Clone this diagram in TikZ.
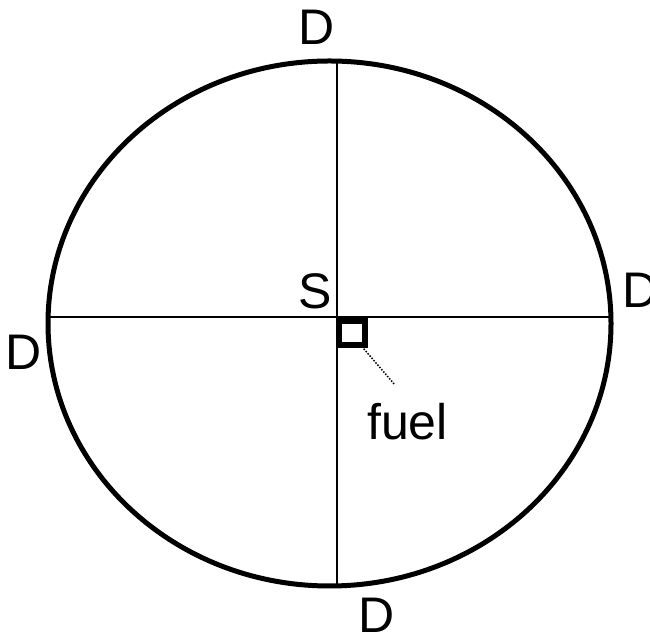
\documentclass[tikz,border=0pt]{standalone}
\usepackage{fontspec}
\setmainfont{Liberation Sans}
\begin{document}
\begin{tikzpicture}[x=1pt,y=1pt,
  lbl/.style={inner sep=0pt, font=\fontsize{50}{50}\selectfont},
  rim/.style={line width=5pt},
  axis/.style={line width=2pt},
  fuelbox/.style={draw, line width=5.5pt, minimum width=26pt, minimum height=24pt, inner sep=0pt},
  leader/.style={line width=1.5pt, dash pattern=on 1.5pt off 1.5pt}]
\useasboundingbox (0,0) rectangle (650,636);
\draw[rim] (329.5,312.5) ellipse [x radius=281.5, y radius=262.5];
\coordinate (W) at (48.1,319);
\coordinate (E) at (610.9,319);
\coordinate (N) at (337,574.9);
\coordinate (Sb) at (337,50.1);
\draw[axis] (W) -- (E);
\draw[axis] (N) -- (Sb);
\node[fuelbox] (box) at (352,303) {};
\coordinate (lead) at (395,251);
\draw[leader] (box.south east) ++(-4,-1) -- (lead);
\node[lbl] (dn) at (317,609) {D};
\node[lbl] (de) at (641,346) {D};
\node[lbl] (dw) at (24,284) {D};
\node[lbl] (ds) at (377,21) {D};
\node[lbl] (s) at (315,345) {S};
\node[lbl, anchor=base west] (fuel) at (367,196) {fuel};
\end{tikzpicture}
\end{document}
